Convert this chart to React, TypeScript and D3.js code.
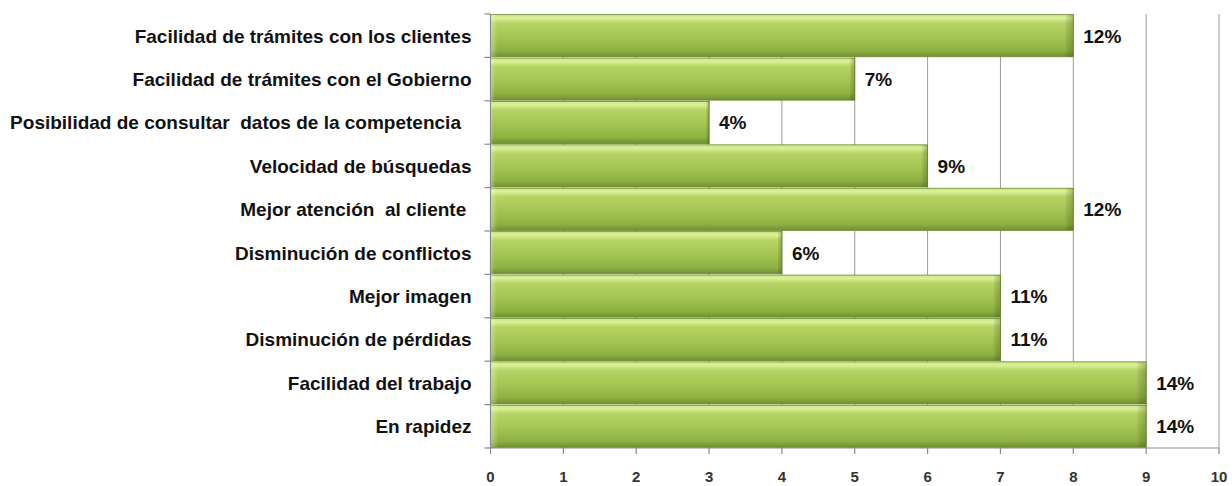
import React from "react";
import * as d3 from "d3";

const categories = [
  "Facilidad de trámites con los clientes",
  "Facilidad de trámites con el Gobierno",
  "Posibilidad de consultar  datos de la competencia  ",
  "Velocidad de búsquedas",
  "Mejor atención  al cliente ",
  "Disminución de conflictos",
  "Mejor imagen",
  "Disminución de pérdidas",
  "Facilidad del trabajo",
  "En rapidez",
];
const values = [8, 5, 3, 6, 8, 4, 7, 7, 9, 9];
const percentLabels = ["12%", "7%", "4%", "9%", "12%", "6%", "11%", "11%", "14%", "14%"];
const xTicks = [0, 1, 2, 3, 4, 5, 6, 7, 8, 9, 10];

const W = 1232;
const H = 486;
const left = 490.5;
const right = 1219;
const top = 14;
const bottom = 448;

export default function App() {
  const x = d3.scaleLinear().domain([0, 10]).range([left, right]);
  const y = d3
    .scaleBand<string>()
    .domain(categories)
    .range([top, bottom])
    .paddingInner(0.03)
    .paddingOuter(0.015);
  const step = (bottom - top) / categories.length;
  const boundaries = d3.range(categories.length + 1).map((i) => top + i * step);
  const font = "'Liberation Sans', Arial, sans-serif";

  return (
    <svg
      width={W}
      height={H}
      style={{ position: "absolute", left: 0, top: 0, background: "#fff" }}
    >
      <defs>
        <linearGradient id="barV" x1="0" y1="0" x2="0" y2="1">
          <stop offset="0" stopColor="#cce483" />
          <stop offset="0.08" stopColor="#dbf197" />
          <stop offset="0.2" stopColor="#b6d465" />
          <stop offset="0.55" stopColor="#a3c452" />
          <stop offset="0.85" stopColor="#8eb143" />
          <stop offset="1" stopColor="#718f33" />
        </linearGradient>
        <linearGradient id="barH" x1="0" y1="0" x2="1" y2="0">
          <stop offset="0" stopColor="#ffffff" stopOpacity="0.35" />
          <stop offset="0.012" stopColor="#ffffff" stopOpacity="0" />
          <stop offset="0.985" stopColor="#000000" stopOpacity="0" />
          <stop offset="1" stopColor="#3a5010" stopOpacity="0.3" />
        </linearGradient>
      </defs>

      {/* gridlines */}
      {xTicks.slice(1).map((t) => (
        <line
          key={"g" + t}
          x1={x(t)}
          x2={x(t)}
          y1={top}
          y2={bottom}
          stroke="#9a9a9a"
          strokeWidth={1}
        />
      ))}

      {/* bars */}
      {categories.map((c, i) => {
        const y0 = y(c)!;
        const bw = x(values[i]) - x(0);
        return (
          <g key={c}>
            <rect
              x={x(0)}
              y={y0}
              width={bw}
              height={y.bandwidth()}
              fill="url(#barV)"
              stroke="#6b8a2e"
              strokeWidth={0.8}
            />
            <rect
              x={x(0)}
              y={y0}
              width={bw}
              height={y.bandwidth()}
              fill="url(#barH)"
            />
            <text
              x={x(values[i]) + 10}
              y={y0 + y.bandwidth() / 2}
              dy="0.36em"
              fontFamily={font}
              fontWeight="bold"
              fontSize={19}
              fill="#111"
            >
              {percentLabels[i]}
            </text>
            <text
              x={left - 19}
              y={y0 + y.bandwidth() / 2}
              dy="0.36em"
              textAnchor="end"
              fontFamily={font}
              fontWeight="bold"
              fontSize={19}
              fill="#111"
              style={{ whiteSpace: "pre" }}
            >
              {c}
            </text>
          </g>
        );
      })}

      {/* left axis */}
      <line x1={left} x2={left} y1={top} y2={bottom} stroke="#8a8a8a" strokeWidth={1.2} />
      {boundaries.map((b, i) => (
        <line key={"lt" + i} x1={left - 6} x2={left} y1={b} y2={b} stroke="#8a8a8a" strokeWidth={1.2} />
      ))}

      {/* bottom axis */}
      <line x1={left} x2={right} y1={bottom} y2={bottom} stroke="#8a8a8a" strokeWidth={1.2} />
      {xTicks.map((t) => (
        <g key={"bt" + t}>
          <line x1={x(t)} x2={x(t)} y1={bottom} y2={bottom + 6} stroke="#8a8a8a" strokeWidth={1.2} />
          <text
            x={x(t)}
            y={482}
            textAnchor="middle"
            fontFamily={font}
            fontWeight="bold"
            fontSize={15}
            fill="#333"
          >
            {t}
          </text>
        </g>
      ))}
    </svg>
  );
}
